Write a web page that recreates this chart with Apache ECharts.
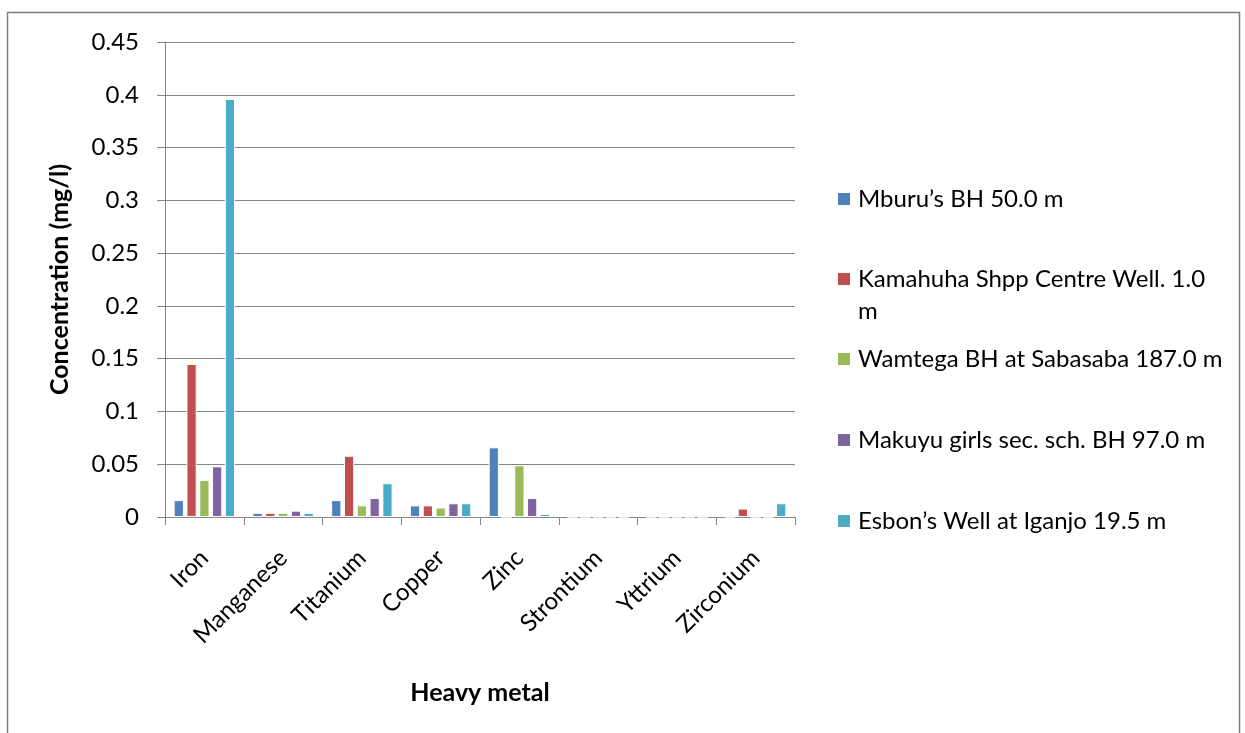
<!DOCTYPE html>
<html>
<head>
<meta charset="utf-8">
<title>Heavy metal concentration</title>
<script src="https://cdn.jsdelivr.net/npm/echarts@6/dist/echarts.min.js"></script>
<style>
  html, body { margin: 0; padding: 0; background: #fff; }
  #chart { width: 1245px; height: 733px; }
</style>
</head>
<body>
<div id="chart"></div>
<script>
// Heavy metal concentrations (mg/l) measured at five sampling sites
const metals = ['Iron', 'Manganese', 'Titanium', 'Copper', 'Zinc', 'Strontium', 'Yttrium', 'Zirconium'];

const siteNames = [
  'Mburu\u2019s BH 50.0 m',
  'Kamahuha Shpp Centre Well. 1.0 m',
  'Wamtega BH at Sabasaba 187.0 m',
  'Makuyu girls sec. sch. BH 97.0 m',
  'Esbon\u2019s Well at Iganjo 19.5 m'
];

const mburu    = [0.016, 0.004, 0.016, 0.011, 0.066, 0, 0, 0];
const kamahuha = [0.145, 0.004, 0.058, 0.011, 0,     0, 0, 0.008];
const wamtega  = [0.035, 0.004, 0.011, 0.009, 0.049, 0, 0, 0];
const makuyu   = [0.048, 0.006, 0.018, 0.013, 0.018, 0, 0, 0];
const esbon    = [0.396, 0.004, 0.032, 0.013, 0.003, 0, 0, 0.013];

const yTicks = { min: 0, max: 0.45, step: 0.05 };

const siteValues = [mburu, kamahuha, wamtega, makuyu, esbon];
const palette = ['#4F81BD', '#C0504D', '#9BBB59', '#8064A2', '#4BACC6'];

const FONT = 'Lato, "Open Sans", sans-serif';
const GRID_GRAY = '#868686';

// one legend block per site so each entry can sit at its own height
const legendCenters = [199, 279, 359, 440, 521];
const LINE_H = 32;
const legends = siteNames.map((name, i) => {
  const wraps = name.startsWith('Kamahuha');
  return {
    data: [name],
    orient: 'vertical',
    left: 836,
    top: legendCenters[i] - (wraps ? LINE_H * 1.5 : LINE_H / 2),
    padding: 0,
    itemWidth: 14,
    itemHeight: 14,
    itemGap: 0,
    icon: 'rect',
    selectedMode: false,
    formatter: wraps ? (n => '\n' + n.replace(/ m$/, '\nm')) : undefined,
    textStyle: { fontFamily: FONT, fontSize: 24, color: '#000', lineHeight: LINE_H, padding: [0, 0, 0, 2] }
  };
});

const chart = echarts.init(document.getElementById('chart'), null, { renderer: 'canvas' });

chart.setOption({
  backgroundColor: '#fff',
  animation: false,
  color: palette,
  graphic: [{
    type: 'rect',
    shape: { x: 7.5, y: 12.5, width: 1232, height: 800 },
    style: { fill: 'none', stroke: '#7f7f7f', lineWidth: 1.5 },
    silent: true,
    z: -1
  }],
  legend: legends,
  grid: { left: 165, right: 450, top: 42, bottom: 216, containLabel: false },
  xAxis: {
    type: 'category',
    data: metals,
    name: 'Heavy metal',
    nameLocation: 'middle',
    nameGap: 163,
    nameTextStyle: { fontFamily: FONT, fontSize: 25, fontWeight: 'bold', color: '#000' },
    axisLine: { show: true, lineStyle: { color: GRID_GRAY, width: 1 } },
    axisTick: { show: true, length: 8, lineStyle: { color: GRID_GRAY } },
    axisLabel: {
      rotate: 45, margin: 20, verticalAlign: 'top', padding: [0, 12, 0, 0],
      fontFamily: FONT, fontSize: 24, color: '#000', interval: 0
    }
  },
  yAxis: {
    type: 'value',
    min: yTicks.min,
    max: yTicks.max,
    interval: yTicks.step,
    name: 'Concentration (mg/l)',
    nameLocation: 'middle',
    nameGap: 93,
    nameTextStyle: { fontFamily: FONT, fontSize: 25, fontWeight: 'bold', color: '#000' },
    axisLine: { show: true, lineStyle: { color: GRID_GRAY, width: 1 } },
    axisTick: { show: true, length: 8, lineStyle: { color: GRID_GRAY } },
    axisLabel: { margin: 26, fontFamily: FONT, fontSize: 24, color: '#000' },
    splitLine: { show: true, lineStyle: { color: GRID_GRAY, width: 1 } }
  },
  series: siteNames.map((name, i) => ({
    name: name,
    type: 'bar',
    data: siteValues[i],
    barGap: '25%',
    barCategoryGap: '22%',
    itemStyle: {
      color: palette[i],
      borderColor: '#fff',
      borderWidth: 1
    }
  }))
});
</script>
</body>
</html>
